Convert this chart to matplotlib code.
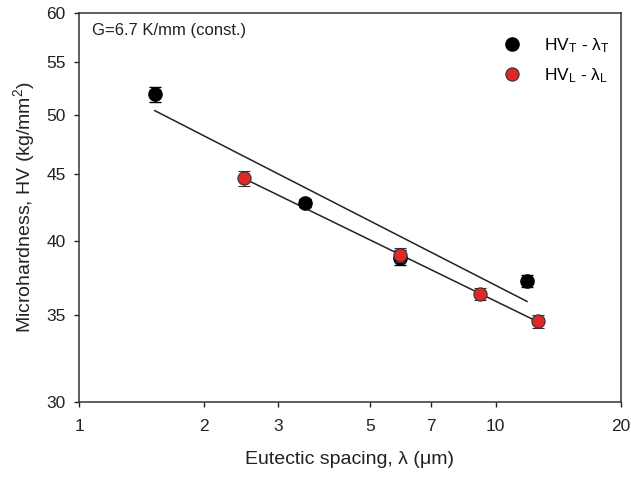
import numpy as np
import matplotlib
matplotlib.use('Agg')
import matplotlib.pyplot as plt
from matplotlib.ticker import FixedLocator, FixedFormatter, NullLocator

plt.rcParams['font.family'] = ['Liberation Sans', 'DejaVu Sans']
plt.rcParams['mathtext.default'] = 'regular'

# HV_T - lambda_T (black)
lam_t = [1.52, 3.49, 5.89, 11.9]
hv_t = [51.9, 42.8, 38.8, 37.2]
err_t = [0.7, 0.3, 0.5, 0.4]

# HV_L - lambda_L (red)
lam_l = [2.49, 5.89, 9.18, 12.64]
hv_l = [44.7, 39.0, 36.35, 34.65]
err_l = [0.6, 0.5, 0.4, 0.4]

xticks = [1, 2, 3, 5, 7, 10, 20]
yticks = [30, 35, 40, 45, 50, 55, 60]
labels = [r'HV$_{T}$ - λ$_{T}$', r'HV$_{L}$ - λ$_{L}$']

W, H = 631, 478


def fit_line(ax, xx, yy):
  k, b = np.polyfit(np.log10(xx), np.log10(yy), 1)
  xs = np.array([min(xx), max(xx)])
  ax.plot(xs, 10**(b + k*np.log10(xs)), color='#222222', lw=1.1, zorder=2)


fig = plt.figure(figsize=(W/100., H/100.), dpi=100)
ax = fig.add_axes([0.1252, 0.159, 0.8588, 0.8138])
ax.set_xscale('log')
ax.set_yscale('log')
ax.set_xlim(1, 20)
ax.set_ylim(30, 60)

fit_line(ax, lam_t, hv_t)
fit_line(ax, lam_l, hv_l)

eb_t = ax.errorbar(lam_t, hv_t, yerr=err_t, fmt='o', color='black', mfc='black', mec='black',
                   ms=9.5, capsize=4.5, elinewidth=1, capthick=1, zorder=3)
eb_l = ax.errorbar(lam_l, hv_l, yerr=err_l, fmt='o', color='#333333', mfc='#e02828', mec='#333333',
                   ms=9.5, mew=0.8, capsize=4.5, elinewidth=1, capthick=1, zorder=4)

ax.xaxis.set_major_locator(FixedLocator(xticks))
ax.xaxis.set_major_formatter(FixedFormatter([str(t) for t in xticks]))
ax.xaxis.set_minor_locator(NullLocator())
ax.yaxis.set_major_locator(FixedLocator(yticks))
ax.yaxis.set_major_formatter(FixedFormatter([str(t) for t in yticks]))
ax.yaxis.set_minor_locator(NullLocator())
ax.tick_params(direction='out', length=3.5, width=1, labelsize=12.5, colors='#222222', pad=6)
ax.tick_params(axis='x', pad=9)
for s in ax.spines.values():
  s.set_linewidth(1.1)
  s.set_color('#333333')

ax.set_xlabel('Eutectic spacing, λ (μm)', fontsize=14, labelpad=12, color='#222222')
ax.set_ylabel('Microhardness, HV (kg/mm$^{2}$)', fontsize=14, labelpad=7, color='#222222')

fig.text(92./W, 1 - 35.5/H, 'G=6.7 K/mm (const.)', ha='left', va='baseline',
         fontsize=12, color='#222222')


def make_legend(spacing, anchor):
  return ax.legend(handles=[eb_t[0], eb_l[0]], labels=labels,
                   loc='upper left', bbox_to_anchor=anchor, frameon=False,
                   fontsize=12.5, handlelength=2.0, handletextpad=0.85,
                   labelspacing=spacing, numpoints=1)


def handle_centers(leg):
  fig.canvas.draw()
  r = fig.canvas.get_renderer()
  out = []
  for h in leg.legend_handles:
    b = h.get_window_extent(r)
    out.append(((b.x0 + b.x1)/2., (b.y0 + b.y1)/2.))
  return out


# place legend markers where they sit in the original: (512, 44) and 30 px apart
fs_px = 12.5*100/72.
spacing = 0.5
leg = make_legend(spacing, (0.8, 0.95))
c = handle_centers(leg)
spacing += (30 - (c[0][1] - c[1][1]))/fs_px
leg.remove()
leg = make_legend(spacing, (0.8, 0.95))
c = handle_centers(leg)
dx = 512 - c[0][0]
dy = (H - 44) - c[0][1]
a = ax.transAxes.transform((0.8, 0.95))
new_anchor = ax.transAxes.inverted().transform((a[0] + dx, a[1] + dy))
leg.set_bbox_to_anchor(tuple(new_anchor), transform=ax.transAxes)

fig.savefig('out.png', dpi=100)
